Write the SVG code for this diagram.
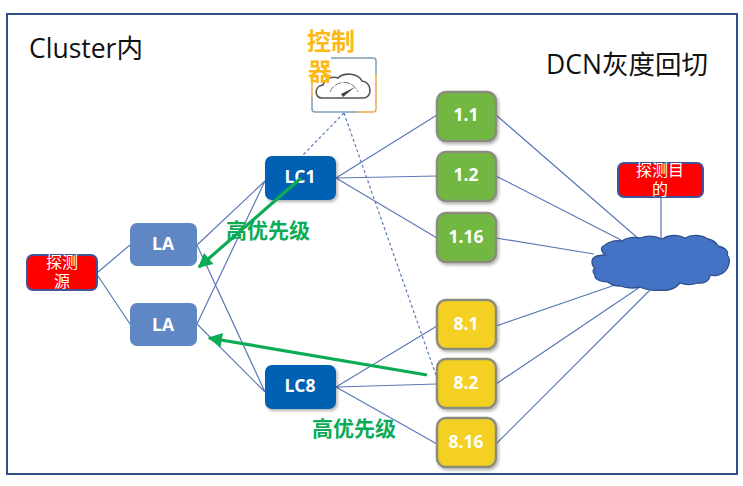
<svg xmlns="http://www.w3.org/2000/svg" width="743" height="486" viewBox="0 0 743 486">
<style>
text{font-family:"Noto Sans CJK SC","Liberation Sans",sans-serif;text-anchor:middle}
.lab{font-family:"Open Sans","Noto Sans CJK SC",sans-serif;font-weight:700;font-size:17.5px;fill:#fff}
.red{fill:#ff0000;stroke:#3f5597;stroke-width:2}
.redt{font-size:16px;fill:#fff}
.la{fill:#5f87c3}
.lc{fill:#0561b1;filter:url(#sh)}
.g{fill:#72b743;stroke:#8c8c7c;stroke-width:2.5;filter:url(#sh)}
.y{fill:#f4d023;stroke:#8c8c7c;stroke-width:2.5;filter:url(#sh)}
.ln{stroke:#5b79b8;stroke-width:1.2;fill:none}
.ar{stroke:#0cab55;stroke-width:3.2;fill:none}
.hi{font-size:21px;font-weight:700;fill:#0cab55}
.big{font-family:"Open Sans","Noto Sans CJK SC",sans-serif;font-size:26.5px;fill:#111}
.ctl{font-size:24px;font-weight:700;fill:#fdb813}
</style>
<defs>
<filter id="sh" x="-15%" y="-15%" width="130%" height="130%"><feDropShadow dx="1.5" dy="2" stdDeviation="1.5" flood-color="#000" flood-opacity=".3"/></filter>
<marker id="ah" viewBox="0 0 10 10" refX="9" refY="5" markerWidth="5" markerHeight="4.5" orient="auto" markerUnits="strokeWidth"><path d="M0 0L10 5L0 10Z" fill="#0cab55"/></marker>
</defs>
<rect width="743" height="486" fill="#fff"/>
<rect x="7" y="14" width="730" height="460" fill="#fff" stroke="#2f5085" stroke-width="2"/>
<text class="big" x="86" y="58">Cluster内</text>
<text class="big" x="627" y="74">DCN灰度回切</text>
<g id="connectors">
<path class="ln" d="M98 272L130 245M98 276L130 324M197 245L265 181M197 245L265 392M197 324L265 181M197 324L265 392"/>
<path class="ln" d="M336 178L437 115M336 178L437 176M336 178L437 238M336 387L437 326M336 387L437 384M336 387L437 444"/>
<path class="ln" d="M496 115L640 240M496 176L623 241M496 238L594 254M496 326L615 285M496 384L640 287M496 444L650 290M661 198V240"/>
<path class="ln" stroke-dasharray="3 2.5" d="M344 113L301 157M344 113L437 378"/>
</g>
<g id="source"><rect class="red" x="27" y="255" width="70" height="35" rx="6"/><text class="redt" x="62" y="268">探测</text><text class="redt" x="62" y="287">源</text></g>
<g id="target"><rect class="red" x="618" y="163" width="85" height="34" rx="6"/><text class="redt" x="660" y="176">探测目</text><text class="redt" x="660" y="195">的</text></g>
<g id="la1"><rect class="la" x="130" y="223" width="67" height="43" rx="7"/><text class="lab" x="163" y="250">LA</text></g>
<g id="la2"><rect class="la" x="130" y="303" width="67" height="43" rx="7"/><text class="lab" x="163" y="331">LA</text></g>
<g id="lc1"><rect class="lc" x="265" y="156" width="71" height="44" rx="7"/><text class="lab" x="300" y="183">LC1</text></g>
<g id="lc8"><rect class="lc" x="265" y="365" width="71" height="44" rx="7"/><text class="lab" x="300" y="392">LC8</text></g>
<g id="n1-1"><rect class="g" x="437" y="92" width="59" height="49" rx="9"/><text class="lab" x="466" y="121">1.1</text></g>
<g id="n1-2"><rect class="g" x="437" y="152" width="59" height="49" rx="9"/><text class="lab" x="466" y="181">1.2</text></g>
<g id="n1-16"><rect class="g" x="437" y="213" width="59" height="49" rx="9"/><text class="lab" x="466" y="243">1.16</text></g>
<g id="n8-1"><rect class="y" x="437" y="300" width="59" height="49" rx="9"/><text class="lab" x="466" y="330">8.1</text></g>
<g id="n8-2"><rect class="y" x="437" y="359" width="59" height="49" rx="9"/><text class="lab" x="466" y="389">8.2</text></g>
<g id="n8-16"><rect class="y" x="437" y="418" width="59" height="49" rx="9"/><text class="lab" x="466" y="448">8.16</text></g>
<g id="cloud"><path d="M592 262C592 257 598 255 605 255C599 249 602 246 605 245C610 241 616 240 622 241C628 237 635 237 640 238C648 235 656 236 662 239C668 235 678 234 685 238C692 234 702 235 708 239C714 240 717 244 718 246C726 248 729 252 727 255C731 258 730 268 723 273C718 276 713 276 710 275C710 281 703 284 698 283C692 285 685 285 680 283C674 290 668 291 662 290C654 291 646 290 640 287C632 289 626 288 620 286C614 286 610 284 608 282C600 282 594 279 595 275C592 272 593 269 595 268C592 266 592 264 592 262Z" fill="#4472c4" stroke="#2f528f" stroke-width="1.3"/></g>
<g id="controller">
<path d="M312 58H375V112H312Z" fill="#fff"/>
<path d="M331 58H373Q376 58 376 61V74" fill="none" stroke="#7d9db8" stroke-width="1.5"/>
<path d="M376 74V109Q376 112 373 112H358" fill="none" stroke="#eda947" stroke-width="1.5"/>
<path d="M358 112H315Q312 112 312 109V97" fill="none" stroke="#7d9db8" stroke-width="1.5"/>
<path d="M312 97V74" fill="none" stroke="#eda947" stroke-width="1.5"/>
<path d="M322 98C314 98 314 86 323 85C325 78 333 76 338 78C344 72 358 73 362 81C372 82 373 98 363 98Z" fill="none" stroke="#555" stroke-width="1.6"/>
<path d="M330 92A15 15 0 0 1 358 92" fill="none" stroke="#777" stroke-width="1" stroke-dasharray="7 1.5"/>
<path d="M341 94L355 87L343 97Z" fill="#444"/>
<text class="ctl" x="331" y="50">控制</text>
<text class="ctl" x="320" y="80">器</text>
</g>
<g id="priority-arrows">
<path class="ar" marker-end="url(#ah)" d="M301 178L199 267"/>
<path class="ar" marker-end="url(#ah)" d="M427 375L209 338"/>
</g>
<text class="hi" x="268" y="238">高优先级</text>
<text class="hi" x="354" y="436">高优先级</text>
</svg>
